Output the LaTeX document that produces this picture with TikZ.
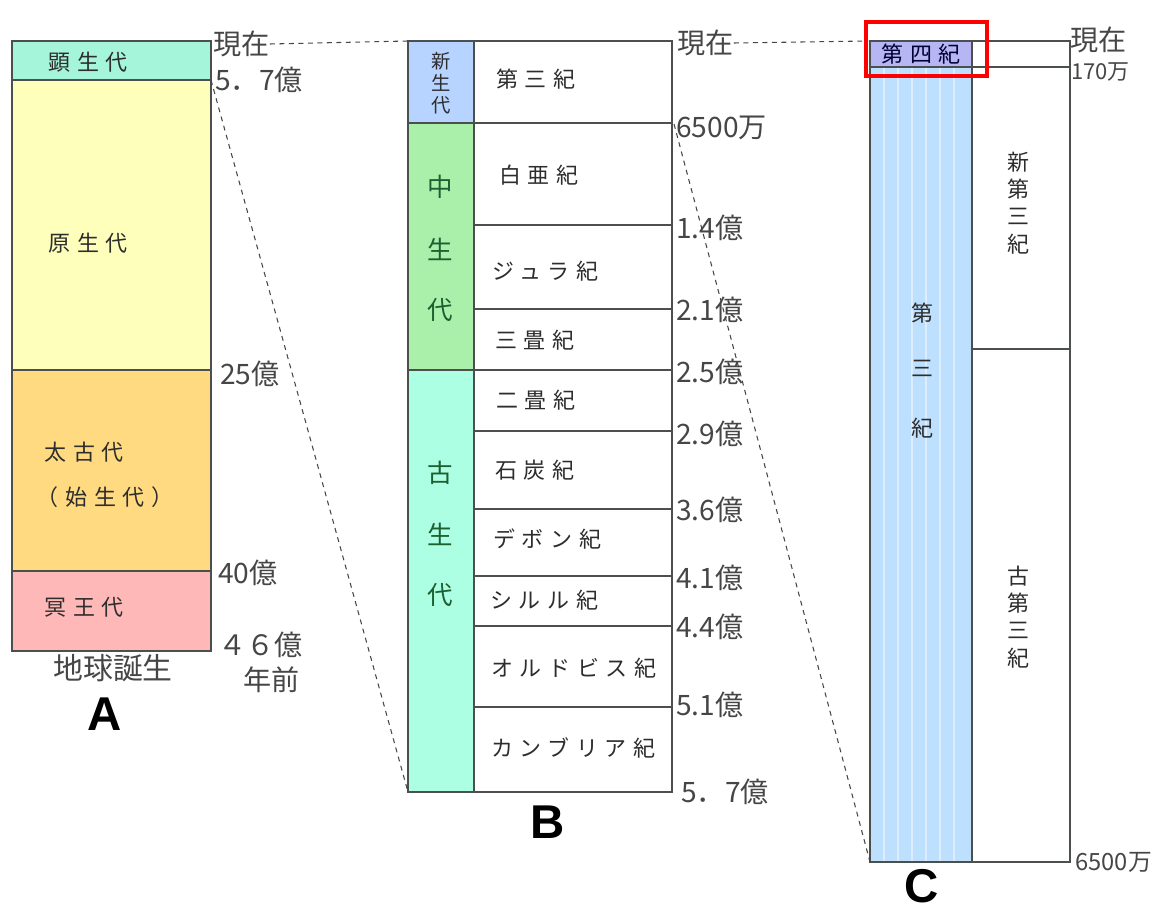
\documentclass[tikz,border=0pt]{standalone}
\usepackage{fontspec}
\setmainfont{Noto Sans CJK JP}
\newfontfamily\jpwide[LetterSpace=30]{Noto Sans CJK JP}
\setsansfont{Liberation Sans}
\usepackage{xcolor}
\definecolor{kenCol}{RGB}{165,245,218}
\definecolor{genCol}{RGB}{255,255,188}
\definecolor{taiCol}{RGB}{255,218,128}
\definecolor{meiCol}{RGB}{255,184,184}
\definecolor{shinCol}{RGB}{182,212,255}
\definecolor{chuCol}{RGB}{170,240,170}
\definecolor{koCol}{RGB}{172,255,226}
\definecolor{daisanCol}{RGB}{190,224,255}
\definecolor{daiyonCol}{RGB}{182,182,245}
\definecolor{edgeCol}{RGB}{75,80,78}
\definecolor{txtCol}{RGB}{45,45,45}
\definecolor{ageCol}{RGB}{70,70,70}
\definecolor{eraGreen}{RGB}{30,95,50}

\begin{document}
\begin{tikzpicture}[x=0.02cm,y=-0.02cm,
	box/.style={draw=edgeCol,line width=0.7pt},
	per/.style={font=\jpwide\fontsize{12.5}{14}\selectfont,text=txtCol,inner sep=0pt},
	age/.style={anchor=west,inner sep=0pt,font=\fontsize{16}{18}\selectfont,text=ageCol},
	era/.style={font=\fontsize{14.5}{16}\selectfont,text=eraGreen,inner sep=0pt},
	vert/.style={align=center,inner sep=0pt,font=\fontsize{12.5}{15.5}\selectfont,text=txtCol},
	big/.style={font=\sffamily\bfseries\fontsize{27}{30}\selectfont,inner sep=0pt},
	guide/.style={dash pattern=on 2.8pt off 2.6pt,ageCol,line width=0.6pt}]
	\useasboundingbox (0,0) rectangle (1159,912);

	% column A
	\filldraw[box,fill=kenCol](12,41) rectangle (211,80);
	\filldraw[box,fill=genCol](12,80) rectangle (211,370);
	\filldraw[box,fill=taiCol](12,370) rectangle (211,571);
	\filldraw[box,fill=meiCol](12,571) rectangle (211,651);
	\node(ken) at (88,62)[per]{顕生代};
	\node(gen) at (88,243)[per]{原生代};
	\node(tai) at (84,452)[per]{太古代};
	\node(shi) at (105,497)[per]{（始生代）};
	\node(mei) at (84,607)[per]{冥王代};
	\node(nowA) at (213,44)[age]{現在};
	\node(a57) at (215,80)[age]{5．7億};
	\node(a25) at (220,374)[age]{25億};
	\node(a40) at (218,573)[age]{40億};
	\node(a46) at (218,645)[age]{４６億};
	\node(aago) at (243,680)[age]{年前};
	\node(birth) at (113,668)[text=ageCol,font=\fontsize{17}{19}\selectfont]{地球誕生};
	\node(labA) at (105,714)[big]{A};

	% column B
	\filldraw[box,fill=shinCol](408,41) rectangle (474,123);
	\filldraw[box,fill=chuCol](408,123) rectangle (474,370);
	\filldraw[box,fill=koCol](408,370) rectangle (474,792);
	\draw[box](474,41) rectangle (672,792);
	\foreach \yy in {123,225,309,370,431,509,576,626,707}
		\draw[box](474,\yy) -- (672,\yy);
	\node(shin) at (441,83)[align=center,inner sep=0pt,text=txtCol,font=\fontsize{11}{12.5}\selectfont]{新\\生\\代};
	\node(chu1) at (440,187)[era]{中};
	\node(chu2) at (440,249)[era]{生};
	\node(chu3) at (440,310)[era]{代};
	\node(ko1) at (440,473)[era]{古};
	\node(ko2) at (440,534)[era]{生};
	\node(ko3) at (440,595)[era]{代};
	\node(p3) at (496,79)[per,anchor=west]{第三紀};
	\node(hak) at (499,175)[per,anchor=west]{白亜紀};
	\node(jur) at (492,271)[per,anchor=west]{ジュラ紀};
	\node(san) at (495,340)[per,anchor=west]{三畳紀};
	\node(ni) at (496,400)[per,anchor=west]{二畳紀};
	\node(seki) at (495,470)[per,anchor=west]{石炭紀};
	\node(dev) at (493,539)[per,anchor=west]{デボン紀};
	\node(sil) at (490,600)[per,anchor=west]{シルル紀};
	\node(ord) at (491,668)[per,anchor=west]{オルドビス紀};
	\node(cam) at (491,748)[per,anchor=west]{カンブリア紀};
	\node(nowB) at (677,43)[age]{現在};
	\node(b65) at (676,128)[age]{6500万};
	\node(b14) at (676,228)[age]{1.4億};
	\node(b21) at (676,310)[age]{2.1億};
	\node(b25) at (676,372)[age]{2.5億};
	\node(b29) at (676,434)[age]{2.9億};
	\node(b36) at (676,510)[age]{3.6億};
	\node(b41) at (676,578)[age]{4.1億};
	\node(b44) at (676,627)[age]{4.4億};
	\node(b51) at (676,705)[age]{5.1億};
	\node(b57) at (681,792)[age]{5．7億};
	\node(labB) at (548,822)[big]{B};

	% column C
	\filldraw[box,fill=daisanCol](870,67) rectangle (972,862);
	\foreach \sx in {884,898,...,962}
		\draw[white,opacity=0.45,line width=0.6pt](\sx,68) -- (\sx,861);
	\filldraw[box,fill=daiyonCol](870,41) rectangle (972,67);
	\draw[box](972,41) rectangle (1070,862);
	\draw[box](972,67) -- (1070,67);
	\draw[box](972,349) -- (1070,349);
	\node(yon) at (921,54)[per,text=black!80!blue]{第四紀};
	\node(dai) at (922,313)[vert]{第};
	\node(sanc) at (922,368)[vert]{三};
	\node(kic) at (922,428)[vert]{紀};
	\node(shinC) at (1018,203)[vert]{新\\第\\三\\紀};
	\node(koC) at (1018,617)[vert]{古\\第\\三\\紀};
	\node(nowC) at (1070,40)[age]{現在};
	\node(c170) at (1071,72)[age,font=\fontsize{12.5}{14}\selectfont]{170万};
	\node(c65) at (1075,862)[age,font=\fontsize{13.5}{15}\selectfont]{6500万};
	\node(labC) at (922,886)[big]{C};
	\draw[red,line width=2.4pt](866,22) rectangle (987,76);

	% zoom guides
	\coordinate(Atl) at (211,80);
	\coordinate(Btop) at (408,41);
	\coordinate(Bbl) at (408,792);
	\coordinate(Btr) at (674,124);
	\coordinate(Ctop) at (868,41);
	\coordinate(Cbl) at (870,862);
	\draw[guide](nowA.east) -- (Btop);
	\draw[guide](nowB.east) -- (Ctop);
	\draw[guide](Atl) -- (Bbl);
	\draw[guide](Btr) -- (Cbl);
\end{tikzpicture}
\end{document}
